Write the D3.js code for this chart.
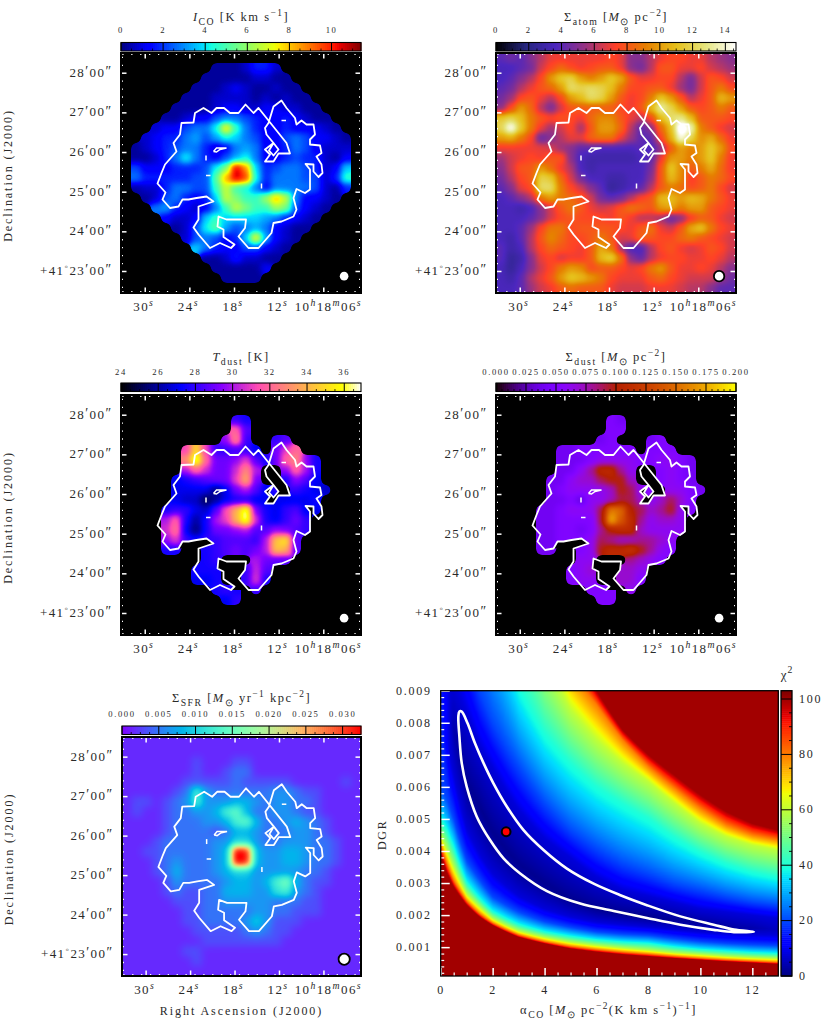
<!DOCTYPE html>
<html><head><meta charset="utf-8">
<script src="https://cdn.jsdelivr.net/npm/d3@7"></script>
<style>html,body{margin:0;padding:0;background:#fff}svg{display:block}text{font-family:"Liberation Serif",serif;fill:#2a2a2a}</style>
</head><body><div id="chart"></div>
<script>
// ---------- axis values ----------
const raMajor=[30,24,18,12,6];
const raLabels=["30","24","18","12"];
const decMajor=[28,27,26,25,24,23];
const decLabels=["28","27","26","25","24","23"];
const alphaTicks=[0,2,4,6,8,10,12];
const dgrTicks=[0.001,0.002,0.003,0.004,0.005,0.006,0.007,0.008,0.009];
const chiTicks=[0,20,40,60,80,100];
// ---------- map cells: one character per cell, "." = no data ----------
const icoRows=[
"........................",".........1112442........","........111112211.......",".......11123211211......","......1112222121211.....",".....111123322332211....",
"....11233566543343211...","...2335669ga6433433321..","..234467579865335653321.",".1234566423676334653222.",".1124696435796334544213.",
".53334445 9cmi8 45665 4238.","  .64444455 bhmk9 46665 524a.","  .12246655aea96366665214.","..12564348ecaadhe63321..","...6743236aecaadc5321...",
"....32238a8888764321....",".....1259b75676321 1.....","......2565348g7321......",".......8643355321.......","........11242211........",".........111113.........","..........1111..........","........................"];
const atomRows=[
"898aceeeeeefeaaceffeecba","7789dfhfefggea9cggeefdcb","78acfknokiknlgeeffc9dgfd","89ceghkpopomiffggeb9dgif","9bfgecfkmpokgefinkgcegmk","afkhc9dgggggfegmrokgfgig",
"nomigfgfehjjgecfmpqmgggf","ouniebdfbgkkhc8ahmwsiged","klif8aceehiieb88fltojlhe","eeeeedba88777787agkiknkf","bdefegga76666678ekkiknie","adggkhec76777779gnjgilhe",
"9cfgonhd9776677agmjegihf","8aefppifda85678cgihfgifd","78acikihgd989cfgmmkmlige","7767adgigedegihgklikkgfe","7778adfgfffegeccb8aegged","778bfiifggggfegiedglnife",
"768cgjhffgigdehgffhigfed","867cfhgfeglib77cfgedegfd","856aefdeegmoia8ceffeefec","757adfikjfggfefikgeefeca","768cegknmkifeeeghfedddb9","778bdeghgggedddeeedcca88"];
const tdustRows=[
"........................","........................","...........87...........","...........g9...........","..........bi8..89.......","......eme88886.aeg......",
"......iqgaabe97agib7....","......cgdaadic..bgc7....",".....6789aaeka..7b96....",".....666636ac968.8765...",".....655246776666667....","....788659fkqa768966....",
"....cg747cekqd768a8.....","....dh637aabc99ba98.....","....be87889998cln9......","....77..789a9aclk9......","........78...ca99.......",".......777..8d9.........",
".......667..8e7.........",".........787.8..........","..........68............","........................","........................","........................"];
const sdustRows=[
"........................","........................","...........54...........","...........55...........","..........45...45.......","......44555555.555......",
"......44456666556654....","......4468bb86..5654....",".....446779aa7..5654....",".....4566667a965.6654...",".....445366799767975....","....4456669gfa978a65....",
"....4455559ieb86776.....","....4455458abb76666.....","....44555698778876......","....44..56abbca865......","........66...8765.......",".......567..776.........",
".......566..775.........",".........555.6..........","..........55............","........................","........................","........................"];
const sfrRows=[
"111111111111111111111111","111111111111111111111111","111111121112211111111111","111111121123311111111111","111111222223222221111121","111112384333333443221111",
"122123484445543443321111","121123344589533443221111","111123334458953345432111","111123333235543334432111","111233333446643344433211","1122 3333 345l k544 5543 3211",
"1112 3433 345l k544 5543 3211","1112 3533 3456 6444 4433 2111","1111 2433 3345 5458 a532 2111","1111 2322 3355 5447 8432 1111","111112223344444333221111","111111223333344332221111",
"111111223333464222111111","111111122222343221111111","111111112222222211111111","111111221111111111111111","111111121111111111111111","111111111111111111111111"];
// ---------- white contour, map pixels (48 per side) ----------
const contourU=[12.1,14.5,14.8,16.5,18.1,19.1,20.6,21.8,23.5,24.9,26.5,27.5,33.1,33.8,31.5,30.5,28.8,29.8,28.8,30.5,31.5,30.5,29.6,30.5,29.1,28.8,29.5,30.5,32.1,33.1,34.8,35.1,36.1,37.1,38.5,38.8,37.8,37.8,39.8,40.1,39.1,40.1,40.3,39.5,38.5,38.5,36.9,37.8,37.8,36.8,35.1,34.5,35.1,34.5,32.1,30.5,30.1,27.5,25.5,23.5,24.8,25,21.1,19.5,19.3,20.5,20.5,22.7,22,19.8,17.8,15.5,14.5,15.5,15.5,18.5,17.1,15.1,13.5,12.3,11.5,9.8,8.3,8.9,7.3,8.1,8.8,11.1,10.5,11.8];
const contourV=[14,13.9,12,11,12,11,11,12,12,10.3,12,11,18,20.1,20.1,21.7,21.7,20.3,19.3,18,19.3,20.5,19.5,18,16.3,15,14,10.7,9.5,11,13,14.3,13.5,14.3,14.3,16.3,17.3,18.3,18.5,20,20.7,22.3,24,24.8,23.7,22.3,22.2,23.3,27.3,28,27.2,29,31.3,32.7,33.7,34,36,39,39,36.7,35,33.3,33.3,32.7,34.7,35.3,36.8,38.3,39,38,39,36.3,34.9,33.3,30.7,29.7,28.7,29,29.3,29.3,30.7,31,29.3,27.9,26.1,24,22.3,19.7,18,16.3];
const holeU=[[18.5,19.1,21.1,19.8,19.1,18.5],[17,17],[17,17.9],[28.1,28.1],[32.1,33]];
const holeV=[[19.7,19,19,19.3,19.8,19.7],[20.5,21.5],[24.5,24.5],[26.1,27.1],[13.5,13.5]];
// contour vertices that bound the no-data notches of the dust maps
const notchRings=[[[26,12,13,14,15,16,17,18,19,24,25],[19,20,21,22]],[[58,59,60,61,62,63,64,65,66,67,68]],[[74,75,76,77,78,79,80]],[[45,46,47,48]]];
// ---------- chi-square surface: DGR of each iso-chi2 level, per alpha ----------
const isoLevels=[100,80,60,40,20,8,1,8,20,40,60,80,100];
const isoAlpha=[0,0.25,0.5,1,1.5,2,3,4,5,6,7,8,9,10,11,12,13];
const isoFloor=[16,10,4,2,1.5,1.5,1.5,1.5,1.5,1.5,1.5,1.5,2,2.5,3,4,6];
const isoDgr=[
[.0039,.0042,.0045,.0050,.0060,.0085,.0095,.0105,.02,.03,.04,.05,.06],
[.0033,.0036,.0040,.0046,.0056,.0075,.0085,.0095,.016,.03,.04,.05,.06],
[.00288,.0031,.0035,.0041,.0050,.0064,.0078,.0092,.014,.025,.035,.045,.055],
[.00231,.00245,.00265,.0030,.0037,.0047,.0062,.0083,.0105,.02,.03,.04,.05],
[.00194,.00205,.00225,.0025,.0031,.0039,.0054,.0073,.0090,.016,.025,.035,.045],
[.00168,.00176,.00189,.0021,.00257,.0033,.0046,.0066,.0080,.0125,.02,.03,.04],
[.00131,.00139,.0015,.0017,.0021,.0026,.0036,.0053,.00663,.0092,.0135,.017,.02],
[.00111,.00118,.0013,.00147,.0018,.0022,.0030,.0044,.00549,.00768,.0100,.0125,.0135],
[.00095,.00103,.00115,.00133,.00162,.00195,.0025,.0038,.00465,.00674,.00841,.0096,.0105],
[.00085,.00093,.00105,.00122,.00148,.00178,.0022,.0032,.00408,.00601,.00747,.00856,.0090],
[.00077,.00085,.00097,.00115,.00141,.0017,.00205,.0028,.00361,.00549,.00674,.00747,.00778],
[.00071,.00079,.0009,.00111,.00137,.00163,.00195,.0026,.0033,.00502,.00616,.00663,.0070],
[.00065,.00072,.00082,.0010,.00127,.00155,.00185,.0024,.00298,.00444,.00549,.00596,.00637],
[.0006,.00066,.00077,.00092,.00118,.00147,.00175,.0022,.00278,.00397,.00486,.00533,.00575],
[.00055,.00061,.00071,.00087,.00112,.00142,.00165,.0021,.00257,.00361,.00444,.00481,.00523],
[.00051,.00057,.00067,.00082,.00108,.00139,.0016,.0020,.00241,.00335,.00418,.0045,.00486],
[.00047,.00053,.00064,.00079,.00105,.00137,.00155,.0019,.00231,.00319,.00403,.00434,.00465]];
const chiContourA=[.81,1.03,1.32,1.65,2.03,2.55,3.19,3.96,4.86,5.89,6.92,7.94,9.23,10.51,11.29,12.06,11.29,10.51,9.23,7.94,6.66,5.37,4.09,3.06,2.42,1.9,1.39,1.0,.81,.72,.68,.72];
const chiContourD=[.00835,.00799,.00736,.00674,.00611,.00538,.00465,.00403,.00345,.00298,.00262,.00231,.00196,.0017,.00155,.00148,.00147,.00154,.0017,.00191,.00213,.00236,.00275,.0033,.00377,.00434,.00507,.00601,.00674,.00757,.0082,.00835];
const bestFit=[2.52,0.0046];

// ---------- colormaps ----------
const cl=x=>Math.max(0,Math.min(1,x));
const pw=(xs,ys)=>d3.scaleLinear().domain(xs).range(ys).clamp(true);
const rgbStr=(r,g,b)=>`rgb(${Math.round(cl(r)*255)},${Math.round(cl(g)*255)},${Math.round(cl(b)*255)})`;
const jR=pw([0,.35,.66,.89,1],[0,0,1,1,.5]),jG=pw([0,.125,.375,.64,.91,1],[0,0,1,1,0,0]),jB=pw([0,.11,.34,.65,1],[.5,1,1,0,0]);
const jet=t=>rgbStr(jR(t),jG(t),jB(t));
const cmX=[0,.125,.25,.375,.5,.625,.75,.875,1];
const cR=pw(cmX,[0,.15,.3,.6,1,.9,.9,.9,1]),cG=pw(cmX,[0,.15,.15,.2,.25,.5,.75,.9,1]),cB=pw(cmX,[0,.5,.75,.5,.15,0,.1,.5,1]);
const cmr=t=>rgbStr(cR(t),cG(t),cB(t));
const gnuplot2=t=>rgbStr(t/.32-.78125,2*t-.84,t<.25?4*t:t<.42?1:t<.92?-2*t+1.84:t/.08-11.5);
const gnuplot=t=>rgbStr(Math.sqrt(t),t*t*t,Math.sin(2*Math.PI*t));
const rainbow=t=>rgbStr(Math.abs(2*t-.5),Math.sin(Math.PI*t),Math.cos(Math.PI*t/2));

const W=830,H=1030;
const svg=d3.select("#chart").append("svg").attr("width",W).attr("height",H).attr("viewBox",[0,0,W,H]);

// text with italics, sub- and superscripts
function math(g,parts,x,y,size,anchor,rot,sp){
  const t=g.append("text").attr("text-anchor",anchor||"middle").attr("font-size",size).attr("letter-spacing",sp===undefined?1:sp);
  t.attr("transform",`translate(${x},${y})`+(rot?` rotate(${rot})`:""));
  let off=0;
  parts.forEach(p=>{
    const s=t.append("tspan").text(p[0]).style("white-space","pre");
    const k=p[1];
    let target=0,fs=size;
    if(k==="i")s.attr("font-style","italic");
    if(k==="sup"){target=-size*.42;fs=size*.75}
    if(k==="supi"){target=-size*.42;fs=size*.75;s.attr("font-style","italic")}
    if(k==="sub"){target=size*.28;fs=size*.78}
    if(k==="pr"){target=-size*.05;fs=size*1.05}
    s.attr("font-size",fs).attr("dy",target-off);off=target;
  });
  return t;
}
function decode(rows,step,base){return rows.map(r=>[...r.replace(/ /g,"")].map(c=>c==="."?NaN:base+parseInt(c,36)*step))}
function fieldImage(grid,vmax,vmin,cmap,sigma,S){
  const n=grid.length,c=document.createElement("canvas");c.width=S;c.height=S;
  const ctx=c.getContext("2d"),im=ctx.createImageData(S,S);
  const val=d3.scaleLinear().domain([vmin,vmax]).range([0,255]).clamp(true);
  const lut=d3.range(256).map(i=>d3.rgb(cmap(i/255)));
  const s2=2*sigma*sigma;
  for(let py=0;py<S;py++)for(let px=0;px<S;px++){
    const gx=(px+.5)/S*n-.5,gy=(py+.5)/S*n-.5;
    let sa=0,sw=0,sv=0;
    for(let j=Math.max(0,Math.round(gy)-2);j<=Math.min(n-1,Math.round(gy)+2);j++){
      const row=grid[j];
      for(let i=Math.max(0,Math.round(gx)-2);i<=Math.min(n-1,Math.round(gx)+2);i++){
        const d=(i-gx)*(i-gx)+(j-gy)*(j-gy),w=Math.exp(-d/s2);sa+=w;
        const v=row[i];
        if(v===v&&v!==undefined){sw+=w;sv+=w*v}
      }
    }
    const k=(py*S+px)*4;im.data[k+3]=255;
    const frac=sw/sa;
    if(frac>=.46){
      const col=lut[Math.round(val(sv/sw))];
      const a=cl((frac-.46)/.08);
      im.data[k]=col.r*a;im.data[k+1]=col.g*a;im.data[k+2]=col.b*a;
    }
  }
  ctx.putImageData(im,0,0);
  return c.toDataURL();
}
const raMinor=d3.range(33,0.5,-1.2).filter(v=>!raMajor.some(m=>Math.abs(m-v)<.01));
const decMinor=d3.range(28.4,22.4,-0.2).filter(v=>!decMajor.some(m=>Math.abs(m-v)<.01));

function panel(cfg){
  const S=cfg.size||240,g=svg.append("g").attr("transform",`translate(${cfg.x},${cfg.y})`);
  const ra=d3.scaleLinear().domain([33.19,0.93]).range([0,S]);
  const dec=d3.scaleLinear().domain([28.497,22.445]).range([0,S]);
  g.append("image").attr("width",S).attr("height",S).attr("href",fieldImage(decode(cfg.rows,cfg.step,cfg.base||0),cfg.vmax,cfg.vmin,cfg.cmap,cfg.sigma,S));
  // contour
  const cu=d3.scaleLinear().domain([0,48]).range([0,S]),cv=d3.scaleLinear().domain([0,48]).range([0,S]);
  const ln=d3.line().x(d=>cu(d[0])).y(d=>cv(d[1]));
  if(cfg.notches)notchRings.forEach(rings=>{
    const d=rings.map(r=>ln(r.map(i=>[contourU[i],contourV[i]]))+"Z").join("");
    g.append("path").attr("d",d).attr("fill","#000").attr("fill-rule","evenodd");
  });
  g.append("path").attr("d",ln(d3.zip(contourU,contourV))+"Z").attr("fill","none").attr("stroke","#fff").attr("stroke-width",1.8).attr("stroke-linejoin","round");
  holeU.forEach((u,i)=>g.append("path").attr("d",ln(d3.zip(u,holeV[i]))).attr("fill","none").attr("stroke","#fff").attr("stroke-width",1.5));
  // ticks
  const axes=[[d3.axisBottom(ra),0,"x"],[d3.axisTop(ra),S,"x"],[d3.axisRight(dec),0,"y"],[d3.axisLeft(dec),S,"y"]];
  axes.forEach(([ax,pos,kind])=>{
    [[kind==="x"?raMajor:decMajor,5.5,1.5],[kind==="x"?raMinor:decMinor,2,1.3]].forEach(([vals,len,w])=>{
      ax.tickValues(vals).tickSize(len).tickFormat("");
      const a=g.append("g").attr("transform",kind==="x"?`translate(0,${pos})`:`translate(${pos},0)`).call(ax);
      a.select(".domain").remove();
      a.selectAll(".tick line").attr("stroke","#fff").attr("stroke-width",w);
    });
  });
  g.append("rect").attr("width",S).attr("height",S).attr("fill","none").attr("stroke","#000").attr("stroke-width",2);
  // beam
  g.append("circle").attr("cx",ra(cfg.beamRa)).attr("cy",dec(cfg.beamDec)).attr("r",cfg.beamR)
    .attr("fill","#fff").attr("stroke",cfg.beamRing?"#000":"none").attr("stroke-width",cfg.beamRing?1.8:0);
  // coordinate labels
  raLabels.forEach(l=>{math(g,[[l],["s","supi"]],ra(+l)-1,S+18,cfg.fs,"middle",0,1.4)});
  math(g,[["10"],["h","supi"],["18"],["m","supi"],["06"],["s","supi"]],S+1,S+18,cfg.fs,"end",0,1.4);
  decLabels.forEach(l=>{
    const parts=(l==="23"?[["+41"],["◦","sup"]]:[]).concat([[l],["′","pr"],["00"],["″","pr"]]);
    math(g,parts,-8.5,dec(+l)+4,cfg.fs,"end",0,1.4);
  });
  if(cfg.ylabel)math(g,[["Declination (J2000)"]],-109,S/2-.5+4-1,12,"middle",-90,1.95);
  if(cfg.xlabel)math(g,[["Right Ascension (J2000)"]],S/2,S+39,12,"middle",0,1.95);
  // colour bar
  const cb=d3.scaleLinear().domain([cfg.vmin,cfg.vmax]).range([0,S]);
  const cbTop=-cfg.cbOff,cbH=8.5;
  const cells=d3.range(0,120);
  g.selectAll(null).data(cells).join("rect").attr("x",i=>i*S/120).attr("y",cbTop).attr("width",S/120+.5).attr("height",cbH)
    .attr("fill",i=>cfg.cmap((i+.5)/120));
  const major=cfg.cbTicks,minorStep=cfg.cbMinor;
  const minor=d3.range(cfg.vmin,cfg.vmax,minorStep).filter(v=>!major.some(m=>Math.abs(m-v)<1e-9));
  g.selectAll(null).data(major).join("line").attr("x1",cb).attr("x2",cb).attr("y1",cbTop).attr("y2",cbTop+cbH).attr("stroke","#000").attr("stroke-width",1);
  g.selectAll(null).data(minor).join("line").attr("x1",cb).attr("x2",cb).attr("y1",cbTop+cbH-2.5).attr("y2",cbTop+cbH).attr("stroke","#000").attr("stroke-width",.8);
  g.append("rect").attr("y",cbTop).attr("width",S).attr("height",cbH).attr("fill","none").attr("stroke","#000").attr("stroke-width",1.1);
  major.forEach(v=>math(g,[[cfg.cbFmt(v)]],cb(v),-20.5,8.6,"middle",0,cfg.cbSp===undefined?1.6:cfg.cbSp));
  math(g,cfg.title,S/2,-cfg.titleOff,12.5,"middle",0,1.5);
}

const sun=["⊙","sub"];
const base={fs:13,sigma:.46};
const i0=d=>d3.format("d")(d);
panel({...base,x:121,y:53,rows:icoRows,step:.5,base:-.25,vmin:0,vmax:11.4,cmap:jet,beamRa:3.2,beamDec:22.87,beamR:4.3,
  ylabel:true,cbTicks:[0,2,4,6,8,10],cbMinor:.5,cbFmt:i0,cbOff:10.5,titleOff:32,
  title:[["I","i"],["CO","sub"],[" [K km s"],["−1","sup"],["]"]]});
panel({...base,x:496,y:53,rows:atomRows,step:.5,vmin:0,vmax:14.65,cmap:cmr,beamRa:3.2,beamDec:22.87,beamR:5.2,beamRing:true,
  cbTicks:[0,2,4,6,8,10,12,14],cbMinor:.5,cbFmt:i0,cbOff:10.5,titleOff:32,
  title:[["Σ"],["atom","sub"],[" ["],["M","i"],sun,[" pc"],["−2","sup"],["]"]]});
panel({...base,x:121,y:395,rows:tdustRows,step:.5,base:24,vmin:24,vmax:36.9,cmap:gnuplot2,beamRa:3.2,beamDec:22.87,beamR:4.3,notches:true,
  ylabel:true,cbTicks:[24,26,28,30,32,34,36],cbMinor:.5,cbFmt:i0,cbOff:12,titleOff:34,
  title:[["T","i"],["dust","sub"],[" [K]"]]});
panel({...base,x:496,y:395,rows:sdustRows,step:.05*0.2,vmin:0,vmax:.2,cmap:gnuplot,beamRa:3.2,beamDec:22.87,beamR:4.3,notches:true,
  cbTicks:[0,.025,.05,.075,.1,.125,.15,.175,.2],cbMinor:.005,cbFmt:d3.format(".3f"),cbOff:12,titleOff:34,
  title:[["Σ"],["dust","sub"],[" ["],["M","i"],sun,[" pc"],["−2","sup"],["]"]]});
panel({...base,x:122,y:737,size:239,rows:sfrRows,step:.05*.0325,vmin:0,vmax:.0325,cmap:rainbow,sigma:.5,beamRa:3.2,beamDec:22.87,beamR:5.6,beamRing:true,
  ylabel:true,xlabel:true,cbTicks:[0,.005,.01,.015,.02,.025,.03],cbMinor:.00125,cbFmt:d3.format(".3f"),cbOff:11,titleOff:35,
  title:[["Σ"],["SFR","sub"],[" ["],["M","i"],sun,[" yr"],["−1","sup"],[" kpc"],["−2","sup"],["]"]]});

// ---------- chi-square panel ----------
(function(){
  const x0=440.7,y0=690.7,w=337.6,h=285.3;
  const g=svg.append("g").attr("transform",`translate(${x0},${y0})`);
  const x=d3.scaleLinear().domain([0,13]).range([0,w]);
  const y=d3.scaleLinear().domain([.009,.0001]).range([0,h]);
  const chiMax=103;
  const c=document.createElement("canvas"),cw=Math.round(w),ch=Math.round(h);c.width=cw;c.height=ch;
  const ctx=c.getContext("2d"),im=ctx.createImageData(cw,ch);
  const lut=d3.range(512).map(i=>d3.rgb(jet(i/511)));
  const curves=isoLevels.map((_,k)=>d3.scaleLinear().domain(isoAlpha).range(isoDgr.map(r=>Math.log(r[k]))));
  const floorAt=d3.scaleLinear().domain(isoAlpha).range(isoFloor);
  const mid=(isoLevels.length-1)/2;
  for(let px=0;px<cw;px++){
    const a=x.invert((px+.5)*w/cw),fl=floorAt(a);
    const levels=isoLevels.map((l,k)=>k===mid?fl:Math.max(l,fl+.5+(Math.abs(k-mid)-1)));
    const col=d3.scaleLinear().domain(curves.map(f=>f(a))).range(levels).clamp(true);
    for(let py=0;py<ch;py++){
      const d=Math.log(y.invert((py+.5)*h/ch));
      const v=Math.round(cl(col(d)/chiMax)*511),rgb=lut[v],k=(py*cw+px)*4;
      im.data[k]=rgb.r;im.data[k+1]=rgb.g;im.data[k+2]=rgb.b;im.data[k+3]=255;
    }
  }
  ctx.putImageData(im,0,0);
  g.append("image").attr("width",w).attr("height",h).attr("preserveAspectRatio","none").attr("href",c.toDataURL());
  // contour and best fit
  g.append("path").datum(d3.zip(chiContourA,chiContourD))
    .attr("d",d3.line().x(d=>x(d[0])).y(d=>y(d[1])).curve(d3.curveCatmullRomClosed.alpha(.5)))
    .attr("fill","none").attr("stroke","#fff").attr("stroke-width",2.6);
  g.append("circle").attr("cx",x(bestFit[0])).attr("cy",y(bestFit[1])).attr("r",4.4).attr("fill","#f00").attr("stroke","#000").attr("stroke-width",2);
  // ticks
  const alphaMinor=d3.range(0,13.01,.5).filter(v=>v%2!==0);
  const dgrMinor=d3.range(.0002,.00901,.0002).filter(v=>Math.abs(v*1000-Math.round(v*1000))>1e-6);
  const txt=s=>s.attr("font-size",12).attr("letter-spacing",1.75).attr("font-family",'"Liberation Serif",serif').attr("fill","#2a2a2a");
  const xa=g.append("g").attr("transform",`translate(0,${h})`);
  xa.append("g").call(d3.axisBottom(x).tickValues(alphaTicks).tickSize(0).tickPadding(9).tickFormat(d3.format("d")))
    .call(s=>{s.select(".domain").remove();txt(s.selectAll("text"));
      s.selectAll(".tick line").attr("stroke","#fff").attr("stroke-width",1.5).attr("y2",-8)});
  xa.append("g").call(d3.axisBottom(x).tickValues(alphaMinor).tickSize(0).tickFormat(""))
    .call(s=>{s.select(".domain").remove();s.selectAll(".tick line").attr("stroke","#fff").attr("stroke-width",1.2).attr("y2",-3.5)});
  const ya=g.append("g");
  ya.append("g").call(d3.axisLeft(y).tickValues(dgrTicks).tickSize(0).tickPadding(9).tickFormat(d3.format(".3f")))
    .call(s=>{s.select(".domain").remove();txt(s.selectAll("text"));
      s.selectAll(".tick line").attr("stroke","#fff").attr("stroke-width",1.5).attr("x2",9)});
  ya.append("g").call(d3.axisLeft(y).tickValues(dgrMinor).tickSize(0).tickFormat(""))
    .call(s=>{s.select(".domain").remove();s.selectAll(".tick line").attr("stroke","#fff").attr("stroke-width",1.2).attr("x2",3.5)});
  g.append("rect").attr("width",w).attr("height",h).attr("fill","none").attr("stroke","#000").attr("stroke-width",1.3);
  math(g,[["DGR"]],-55,h/2-.5+2,12,"middle",-90,1.7);
  math(g,[["α"],["CO","sub"],[" ["],["M","i"],sun,[" pc"],["−2","sup"],["(K km s"],["−1","sup"],[")"],["−1","sup"],["]"]],w/2-1,h+38,12.5,"middle",0,1.5);
  // vertical colour bar
  const cbX=340.3,cbW=11;
  const cy=d3.scaleLinear().domain([0,chiMax]).range([h,0]);
  const cells=d3.range(0,140);
  g.selectAll(null).data(cells).join("rect").attr("x",cbX).attr("width",cbW).attr("y",i=>h-(i+1)*h/140).attr("height",h/140+.5).attr("fill",i=>jet((i+.5)/140));
  const minorC=d3.range(5,103,5).filter(v=>v%20!==0);
  g.selectAll(null).data(chiTicks).join("line").attr("x1",cbX).attr("x2",cbX+cbW).attr("y1",cy).attr("y2",cy).attr("stroke","#000").attr("stroke-width",1);
  g.selectAll(null).data(minorC).join("line").attr("x1",cbX+cbW-3).attr("x2",cbX+cbW).attr("y1",cy).attr("y2",cy).attr("stroke","#000").attr("stroke-width",.9);
  g.append("rect").attr("x",cbX).attr("width",cbW).attr("height",h).attr("fill","none").attr("stroke","#000").attr("stroke-width",1.3);
  chiTicks.forEach(v=>math(g,[[String(v)]],cbX+cbW+7,cy(v)+3.6,12,"start",0,1.75));
  math(g,[["χ"],["2","sup"]],cbX+6,-12,13,"middle",0,1);
})();
</script></body></html>
